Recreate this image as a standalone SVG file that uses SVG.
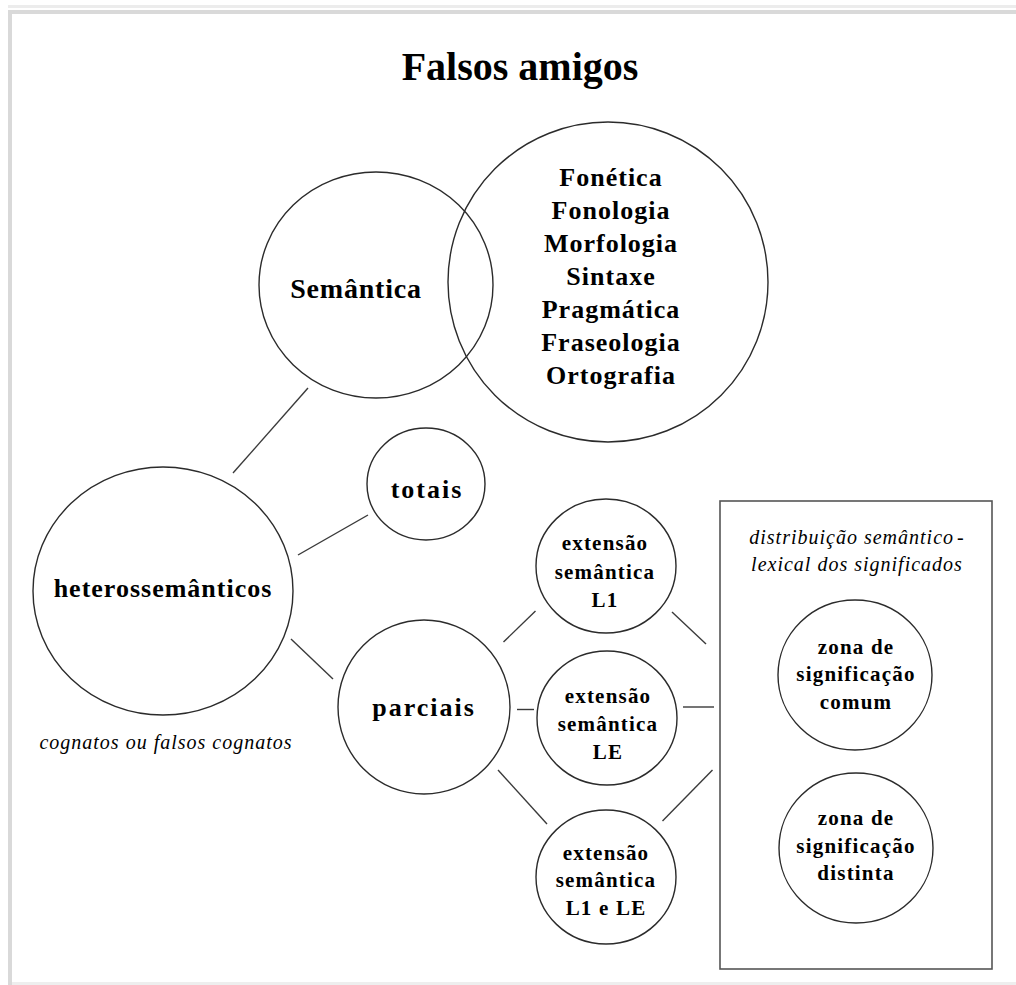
<svg xmlns="http://www.w3.org/2000/svg" width="1016" height="985" viewBox="0 0 1016 985">
<style>
.c{fill:#fff;stroke:#2b2b2b;stroke-width:1.4}
.ln{stroke:#3a3a3a;stroke-width:1.4;fill:none}
.box{fill:none;stroke:#555;stroke-width:1.6}
.t{font-family:"Liberation Serif","Times New Roman",serif;font-weight:bold;fill:#000;text-anchor:middle}
.big{font-size:28px;letter-spacing:0.8px}
.mid{font-size:26px;letter-spacing:1px}
.mid2{font-size:26px;letter-spacing:2px}
.sm{font-size:21px;letter-spacing:1.2px}
.it{font-family:"Liberation Serif","Times New Roman",serif;font-style:italic;fill:#000;text-anchor:middle;font-size:20px;letter-spacing:1px}
</style>
<rect x="0" y="0" width="1016" height="985" fill="#fff"/>
<rect x="8" y="5" width="1008" height="3" fill="#ececec"/>
<rect x="8" y="10" width="1008" height="4" fill="#d9d9d9"/>
<rect x="8" y="10" width="4" height="975" fill="#d9d9d9"/>
<rect x="12" y="982" width="1004" height="3" fill="#eeeeee"/>

<text id="title" class="t" x="520" y="80" font-size="40">Falsos amigos</text>

<g id="connectors">
<line class="ln" x1="308" y1="388" x2="233" y2="473"/>
<line class="ln" x1="298" y1="555" x2="368" y2="515"/>
<line class="ln" x1="291" y1="639" x2="333" y2="679"/>
<line class="ln" x1="503.5" y1="642" x2="535.5" y2="611"/>
<line class="ln" x1="517" y1="709.5" x2="534" y2="709.5"/>
<line class="ln" x1="498" y1="770" x2="547" y2="824"/>
<line class="ln" x1="672" y1="612" x2="706" y2="644"/>
<line class="ln" x1="683" y1="707" x2="714" y2="707"/>
<line class="ln" x1="712.5" y1="770" x2="662.5" y2="821"/>
</g>

<g id="outros">
<circle class="c" cx="608" cy="282" r="160"/>
<text class="t mid" x="611" y="186">Fonética</text>
<text class="t mid" x="611" y="219">Fonologia</text>
<text class="t mid" x="611" y="252">Morfologia</text>
<text class="t mid" x="611" y="285">Sintaxe</text>
<text class="t mid" x="611" y="318">Pragmática</text>
<text class="t mid" x="611" y="351">Fraseologia</text>
<text class="t mid" x="611" y="384">Ortografia</text>
</g>

<g id="semantica">
<ellipse cx="376" cy="285" rx="117" ry="113" fill="none" stroke="#2b2b2b" stroke-width="1.4"/>
<text class="t big" x="356" y="298">Semântica</text>
</g>

<g id="heterossemanticos">
<ellipse class="c" cx="163" cy="591" rx="130" ry="124"/>
<text class="t mid" x="163" y="597">heterossemânticos</text>
</g>

<g id="cognatos">
<text class="it" x="166" y="749">cognatos ou  falsos cognatos</text>
</g>

<g id="totais">
<ellipse class="c" cx="426" cy="484" rx="59" ry="56"/>
<text class="t mid2" x="427" y="498">totais</text>
</g>

<g id="parciais">
<ellipse class="c" cx="424" cy="707" rx="86" ry="87"/>
<text class="t mid2" x="424" y="716">parciais</text>
</g>

<g id="extL1">
<ellipse class="c" cx="606" cy="566" rx="70" ry="67"/>
<text class="t sm" x="605" y="550">extensão</text>
<text class="t sm" x="605" y="579">semântica</text>
<text class="t sm" x="605" y="607">L1</text>
</g>

<g id="extLE">
<ellipse class="c" cx="607" cy="718" rx="70" ry="67"/>
<text class="t sm" x="608" y="703">extensão</text>
<text class="t sm" x="608" y="731">semântica</text>
<text class="t sm" x="608" y="759">LE</text>
</g>

<g id="extL1LE">
<ellipse class="c" cx="606" cy="877" rx="70" ry="67"/>
<text class="t sm" x="606" y="860">extensão</text>
<text class="t sm" x="606" y="887">semântica</text>
<text class="t sm" x="606" y="915">L1 e LE</text>
</g>

<g id="distribuicao">
<rect class="box" x="720" y="501" width="272" height="468"/>
<text class="it" x="857" y="544">distribuição semântico<tspan dx="3">-</tspan></text>
<text class="it" x="857" y="571">lexical dos significados</text>
</g>

<g id="zonaComum">
<ellipse class="c" cx="855" cy="675" rx="77" ry="75"/>
<text class="t sm" x="856" y="654">zona de</text>
<text class="t sm" x="856" y="681">significação</text>
<text class="t sm" x="856" y="709">comum</text>
</g>

<g id="zonaDistinta">
<ellipse class="c" cx="856" cy="848" rx="77" ry="75"/>
<text class="t sm" x="856" y="825">zona de</text>
<text class="t sm" x="856" y="853">significação</text>
<text class="t sm" x="856" y="880">distinta</text>
</g>
</svg>
